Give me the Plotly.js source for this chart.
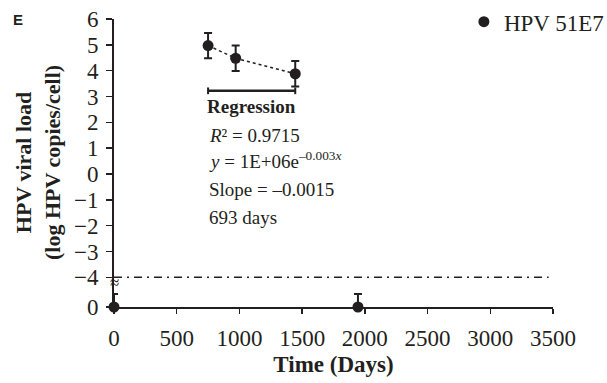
<!DOCTYPE html>
<html>
<head>
<meta charset="utf-8">
<script src="https://cdn.plot.ly/plotly-3.0.1.min.js"></script>
<style>html,body{margin:0;padding:0;background:#fff;}#chart{width:607px;height:383px;}</style>
</head>
<body>
<div id="chart"></div>
<script>
// Data
var days = [0, 750, 970, 1445, 1945];
var logLoad = [0, 4.97, 4.48, 3.88, 0];          // 0 = below detection (plotted on broken-axis zero)
var detected = [false, true, true, true, false];
var errLoad = [0.5, 0.49, 0.49, 0.49, 0.5];
var regDays = [750, 1445];
var lodValue = -4;
var yTickVals = [-4, -3, -2, -1, 0, 1, 2, 3, 4, 5, 6];
var xTickVals = [0, 500, 1000, 1500, 2000, 2500, 3000, 3500];
var seriesName = "HPV 51E7";

var BREAK_ZERO = -5.15; // axis position of the "0" below the axis break
var yPlot = logLoad.map(function(v, i){ return detected[i] ? v : BREAK_ZERO; });

var regX = [], regY = [];
days.forEach(function(d, i){ if (detected[i]) { regX.push(d); regY.push(yPlot[i]); } });

var serif = "Liberation Serif, Times New Roman, serif";
var ink = "#231f20";
var minus = "\u2212";

var traces = [
  { x: regX, y: regY, mode: "lines", type: "scatter", showlegend: false,
    line: { color: ink, width: 1.6, dash: "dot" }, hoverinfo: "skip" },
  { x: regDays, y: [3.22, 3.22], mode: "lines", type: "scatter", showlegend: false,
    line: { color: ink, width: 2.5 },
    error_y: { type: "data", array: [0.13, 0.13], visible: true, color: ink, thickness: 2, width: 0 } },
  { x: days, y: yPlot, mode: "markers", type: "scatter", name: seriesName, cliponaxis: false,
    marker: { color: ink, size: 11, symbol: "circle" },
    error_y: { type: "data", array: errLoad, visible: true, color: ink, thickness: 2, width: 4 } }
];

var yTickText = [ "0" ].concat(yTickVals.map(function(v){ return v < 0 ? minus + Math.abs(v) : String(v); }));

function ann(x, y, text, opts) {
  var a = { x: x, y: y, xref: "x", yref: "y", text: text, showarrow: false,
    xanchor: "left", yanchor: "middle", font: { family: serif, size: 19, color: ink } };
  for (var k in opts) a[k] = opts[k];
  return a;
}

var layout = {
  width: 607, height: 383,
  margin: { l: 114, r: 54, t: 19, b: 76, autoexpand: false },
  paper_bgcolor: "#fff", plot_bgcolor: "#fff",
  showlegend: true,
  legend: { x: 0.797, y: 1.065, xanchor: "left", yanchor: "top", bgcolor: "rgba(0,0,0,0)",
    font: { family: serif, size: 23, color: ink } },
  xaxis: {
    range: [0, 3500], tickvals: xTickVals, ticks: "outside", ticklen: 5, tickwidth: 1.5, tickcolor: ink,
    ticklabelstandoff: 4,
    showline: true, linewidth: 2, linecolor: ink, showgrid: false, zeroline: false,
    tickfont: { family: serif, size: 23, color: ink },
    title: { text: "Time (Days)", standoff: 6, font: { family: serif, size: 23, color: ink, weight: "bold" } }
  },
  yaxis: {
    range: [BREAK_ZERO, 6], tickvals: [BREAK_ZERO].concat(yTickVals), ticktext: yTickText,
    ticks: "outside", ticklen: 6, tickwidth: 1.5, tickcolor: ink, ticklabelstandoff: 3,
    showline: true, linewidth: 2, linecolor: ink, showgrid: false, zeroline: false,
    tickfont: { family: serif, size: 23, color: ink }
  },
  shapes: [
    { type: "line", xref: "paper", yref: "y", x0: 0, x1: 0.99, y0: lodValue, y1: lodValue,
      line: { color: ink, width: 1.6, dash: "8px,5px,2px,5px" } }
  ],
  annotations: [
    { x: 0, y: 0.5, xref: "paper", yref: "paper", xshift: -76, text: "<b>HPV viral load<br>(log HPV copies/cell)</b>",
      showarrow: false, textangle: -90, xanchor: "center", yanchor: "middle",
      font: { family: serif, size: 22, color: ink } },
    { x: 0.0, y: 1.0, xref: "paper", yref: "paper", xshift: -96, yshift: 0, text: "<b>E</b>", showarrow: false,
      xanchor: "center", yanchor: "middle", font: { family: "Liberation Sans, Arial, sans-serif", size: 15, color: ink } },
    ann(0, -4.22, "\u2248", { xanchor: "center", font: { family: serif, size: 17, color: ink } }),
    ann((regDays[0] + regDays[1]) / 2, 2.61, "<b>Regression</b>", { xanchor: "center" }),
    ann(regDays[0] - 12, 1.50, "<i>R</i>\u00b2 = 0.9715"),
    ann(regDays[0] - 12, 0.55, "<i>y</i> = 1E+06e<sup>\u20130.003<i>x</i></sup>"),
    ann(regDays[0] - 12, -0.62, "Slope = \u20130.0015"),
    ann(regDays[0] - 12, -1.70, "693 days")
  ]
};

Plotly.newPlot("chart", traces, layout, { displayModeBar: false, staticPlot: true });
</script>
</body>
</html>
